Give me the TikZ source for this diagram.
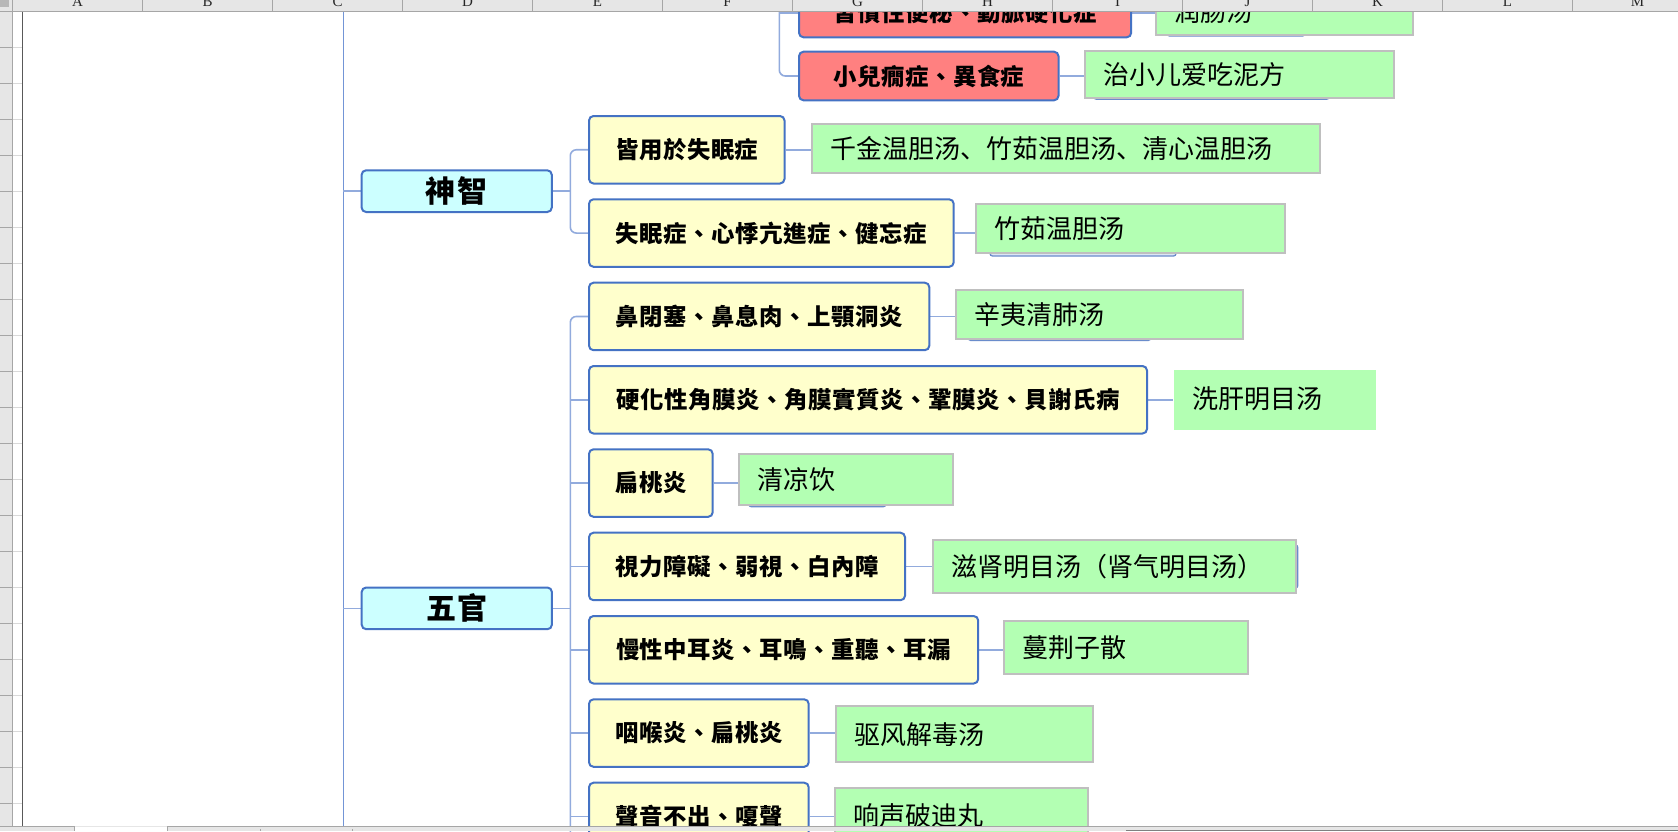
\documentclass[tikz,border=0pt]{standalone}
\usepackage{fontspec}
\setmainfont{Liberation Serif}
\newfontfamily\ytxt[LetterSpace=2.5]{Noto Sans CJK TC}
\newfontfamily\ctxt[LetterSpace=5]{Noto Sans CJK TC}
\newfontfamily\gtxt{Noto Sans CJK SC}
\pgfdeclarelayer{bg}
\pgfsetlayers{bg,main}
\definecolor{yfill}{HTML}{FFFFCC}
\definecolor{cfill}{HTML}{CCFFFF}
\definecolor{rfill}{HTML}{FF8080}
\definecolor{gfill}{HTML}{B3FFB3}
\definecolor{bord}{HTML}{4472C4}
\definecolor{gbord}{HTML}{BFBFBF}
\definecolor{conn}{HTML}{92ABDD}
\definecolor{mainln}{HTML}{7395D6}
\definecolor{hdr}{HTML}{E6E6E6}
\definecolor{hdrln}{HTML}{A6A6A6}
\definecolor{rowl}{HTML}{D9D9D9}
\definecolor{stripc}{HTML}{6A8CCB}
\definecolor{stripf}{HTML}{DCE6F5}
\tikzset{
 boxbase/.style={draw=bord, line width=2pt, rounded corners=4.5pt, inner sep=0pt, anchor=north west, text=black},
 ybox/.style={boxbase, fill=yfill, minimum height=67.5pt, font=\ytxt\bfseries\fontsize{23.4}{27}\selectfont},
 rbox/.style={boxbase, fill=rfill, minimum height=48.6pt, font=\ytxt\bfseries\fontsize{23.4}{27}\selectfont},
 cbox/.style={boxbase, fill=cfill, minimum width=190.2pt, minimum height=41.7pt, font=\ctxt\bfseries\fontsize{30}{34}\selectfont},
 gbox/.style={draw=gbord, line width=2pt, fill=gfill, anchor=north west, inner ysep=0pt, inner xsep=18.5pt, align=left, text=black, font=\gtxt\fontsize{26}{30}\selectfont},
 connline/.style={draw=conn, line width=1.6pt},
 mainline/.style={draw=mainln, line width=1.4pt},
 strip/.style={draw=stripc, line width=1.3pt, fill=stripf, rounded corners=2.5pt},
 colhd/.style={font=\fontsize{15}{15}\selectfont, text=black!85, anchor=base, inner sep=0pt},
}
\begin{document}
\begin{tikzpicture}[x=1pt,y=-1pt]
\useasboundingbox (0,0) rectangle (1678,831);

% ---------- boxes ----------
% top group (red)
\node[rbox, minimum width=332.2pt] (r1) at (798,-12.3) {習慣性便秘、動脈硬化症};
\node[rbox, minimum width=259.5pt] (r2) at (798,50.7) {小兒癇症、異食症};
\node[gbox, text width=219.6pt, minimum height=46pt] (g0) at (1155.3,-12) {润肠汤};
\node[gbox, text width=271.9pt, minimum height=46.7pt] (g00) at (1084.3,50) {治小儿爱吃泥方};

% category boxes
\node[cbox] (c1) at (360.6,169.3) {神智};
\node[cbox] (c2) at (360.7,586.5) {五官};

% yellow boxes
\node[ybox, minimum width=195.5pt] (y1) at (588,115) {皆用於失眠症};
\node[ybox, minimum width=364.7pt] (y2) at (588,198.3) {失眠症、心悸亢進症、健忘症};
\node[ybox, minimum width=340.3pt] (y3) at (588,281.7) {鼻閉塞、鼻息肉、上顎洞炎};
\node[ybox, minimum width=558pt] (y4) at (588,365) {硬化性角膜炎、角膜實質炎、鞏膜炎、貝謝氏病};
\node[ybox, minimum width=123.7pt] (y5) at (588,448.3) {扁桃炎};
\node[ybox, minimum width=316pt] (y6) at (588,531.7) {視力障礙、弱視、白內障};
\node[ybox, minimum width=389.2pt] (y7) at (588,615) {慢性中耳炎、耳鳴、重聽、耳漏};
\node[ybox, minimum width=219.7pt] (y8) at (588,698.3) {咽喉炎、扁桃炎};
\node[ybox, minimum width=219.7pt] (y9) at (588,781.7) {聲音不出、嗄聲};

% green boxes
\node[gbox, text width=470.1pt, minimum height=49.6pt] (g1) at (811.4,122.7) {千金温胆汤、竹茹温胆汤、清心温胆汤};
\node[gbox, text width=272pt, minimum height=49pt] (g2) at (975,203.3) {竹茹温胆汤};
\node[gbox, text width=250pt, minimum height=49pt] (g3) at (954.5,289) {辛夷清肺汤};
\node[gbox, draw=none, text width=165pt, minimum height=60pt] (g4) at (1173,369) {\raisebox{5pt}{洗肝明目汤}};
\node[gbox, text width=177.3pt, minimum height=51.3pt] (g5) at (737.7,452.7) {清凉饮};
\node[gbox, text width=326.3pt, minimum height=53pt] (g6) at (931.7,539.3) {滋肾明目汤（肾气明目汤）};
\node[gbox, text width=206.8pt, minimum height=52.7pt] (g7) at (1003,620) {蔓荆子散};
\node[gbox, text width=219.9pt, minimum height=55.7pt] (g8) at (834.7,705.3) {驱风解毒汤};
\node[gbox, text width=215.9pt, minimum height=56.6pt] (g9) at (834,786.7) {响声破迪丸};

% ---------- connectors (background layer) ----------
\begin{pgfonlayer}{bg}
\fill[white] (0,0) rectangle (1678,831);
\coordinate (mt) at (343.4,0);
\coordinate (mb) at (343.4,831);
\draw[mainline] (mt) -- (mb);
\draw[connline] (mt |- c1.west) -- (c1.west);
\draw[connline] (mt |- c2.west) -- (c2.west);
% 神智 bracket
\coordinate (bxa) at (570.3,0);
\draw[connline] (c1.east) -- (c1.east -| bxa);
\draw[connline, rounded corners=6pt] (y1.west) -- (y1.west -| bxa) -- (y2.west -| bxa) -- (y2.west);
% 五官 bracket
\coordinate (bxb) at (570.3,845);
\draw[connline] (c2.east) -- (c2.east -| bxb);
\draw[connline, rounded corners=6pt] (y3.west) -- (y3.west -| bxb) -- (bxb);
\foreach \n in {4,...,9} \draw[connline] (y\n.west -| bxb) -- (y\n.west);
% top bracket
\coordinate (bxt) at (779.3,-40);
\draw[connline, rounded corners=6pt] (bxt) -- (bxt |- r2.west) -- (r2.west);
\draw[connline] (bxt |- r1.west) -- (r1.west);
% to remedies
\draw[connline] (r1.east) -- (r1.east -| g0.west);
\draw[connline] (r2.east) -- (r2.east -| g00.west);
\foreach \n in {1,...,9} \draw[connline] (y\n.east) -- (y\n.east -| g\n.west);
% shapes lying under some green boxes
\draw[strip] (1167,15) rectangle (1305,36);
\draw[strip] (1094,80) rectangle (1329,99.3);
\draw[strip] (990,230) rectangle (1176,256);
\draw[strip] (968.5,315) rectangle (1150.5,340.5);
\draw[strip] (748.8,485) rectangle (885.8,506.7);
\draw[strip] (1000,545) rectangle (1297.8,588);
\end{pgfonlayer}

% ---------- spreadsheet chrome ----------
\fill[hdr] (0,0) rectangle (1678,11.7);
\foreach \i in {0,...,12} \draw[hdrln] (12.5+130*\i,0) -- (12.5+130*\i,11.7);
\draw[hdrln, line width=1pt] (0,11.7) -- (1678,11.7);
\foreach \l [count=\i from 0] in {A,B,C,D,E,F,G,H,I,J,K,L,M}
  \node[colhd] (col\l) at (77.5+130*\i,6.5) {\l};
\fill[black!28] (0,0) rectangle (9,7.3);
% row header
\fill[hdr] (0,11.7) rectangle (12.2,826);
\foreach \k in {1,...,22} {
  \draw[hdrln] (0,11.7+35.96*\k) -- (12.2,11.7+35.96*\k);
  \draw[rowl] (12.2,11.7+35.96*\k) -- (21.6,11.7+35.96*\k);
}
\draw[hdrln] (12.2,0) -- (12.2,826);
\draw[black!65, line width=1.4pt] (22.3,11.7) -- (22.3,826);
% sheet tabs
\fill[hdr] (0,826) rectangle (1678,831);
\draw[hdrln] (0,826.3) -- (74.6,826.3);
\draw[hdrln] (167,826.3) -- (1678,826.3);
\fill[white] (74.6,826.9) rectangle (167,831);
\draw[hdrln] (74.6,826.3) -- (74.6,831);
\draw[hdrln] (167,826.3) -- (167,831);
\draw[hdrln] (260,829) -- (260,831);
\draw[hdrln] (352,829) -- (352,831);
\draw[black!50, line width=1.5pt] (1125.8,830.4) -- (1678,830.4);
\end{tikzpicture}
\end{document}
